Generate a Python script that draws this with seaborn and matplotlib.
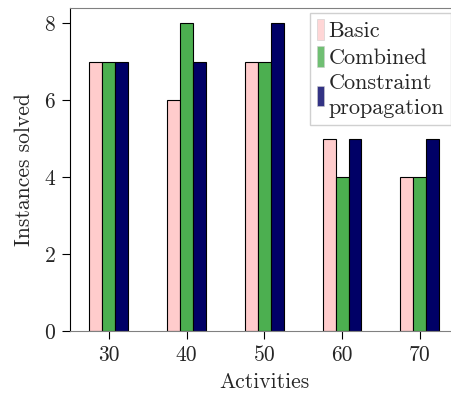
import pandas as pd
import matplotlib
matplotlib.use("Agg")
import matplotlib.pyplot as plt
import seaborn as sns

# Data
activities = [30, 40, 50, 60, 70]
basic = [7, 6, 7, 5, 4]
combined = [7, 8, 7, 4, 4]
constraint = [7, 7, 8, 5, 5]
methods = ["Basic", "Combined", "Constraint\npropagation"]
colors = ["#ffcccc", "#4caf50", "#000066"]

def main():
    sns.set_style("ticks")
    plt.rcParams["font.family"] = ["cmr10", "DejaVu Serif"]
    plt.rcParams["mathtext.fontset"] = "cm"
    plt.rcParams["axes.unicode_minus"] = False
    plt.rcParams["axes.formatter.use_mathtext"] = True

    df = pd.DataFrame({
        "Activities": activities * 3,
        "Instances solved": basic + combined + constraint,
        "method": [methods[0]] * 5 + [methods[1]] * 5 + [methods[2]] * 5,
    })

    fig = plt.figure(figsize=(4.51, 3.98), dpi=100)
    ax = fig.add_axes([0.155, 0.168, 0.862, 0.812])

    sns.barplot(data=df, x="Activities", y="Instances solved", hue="method",
                palette=colors, width=0.5, saturation=1, edgecolor="black",
                linewidth=0.8, ax=ax)

    ax.set_xlim(-0.5, 4.5)
    ax.set_ylim(0, 8.39)
    ax.set_yticks([0, 2, 4, 6, 8])
    ax.tick_params(labelsize=15.5, direction="out", length=6, width=0.8,
                   color="black", pad=4)
    ax.set_xlabel("Activities", fontsize=15.5, labelpad=6)
    ax.set_ylabel("Instances solved", fontsize=15.5, labelpad=7)

    for side in ["top", "bottom"]:
        ax.spines[side].set_color("#808080")
    ax.spines["left"].set_color("black")
    ax.spines["right"].set_visible(False)

    leg = ax.legend(loc="upper right", bbox_to_anchor=(0.98, 0.985),
                    fontsize=16, handlelength=0.33,
                    handleheight=1.05, handletextpad=0.2, borderpad=0.3,
                    labelspacing=0.22, fancybox=False, framealpha=1,
                    edgecolor="#d0d0d0", borderaxespad=0.0)
    leg.get_frame().set_linewidth(1.0)
    for t in leg.get_texts():
        t.set_linespacing(1.4)
    for h in leg.legend_handles:
        h.set_alpha(0.8)
        h.set_edgecolor("#cccccc")
        h.set_linewidth(0.5)

    fig.savefig("out.png", dpi=100)

if __name__ == "__main__":
    main()
